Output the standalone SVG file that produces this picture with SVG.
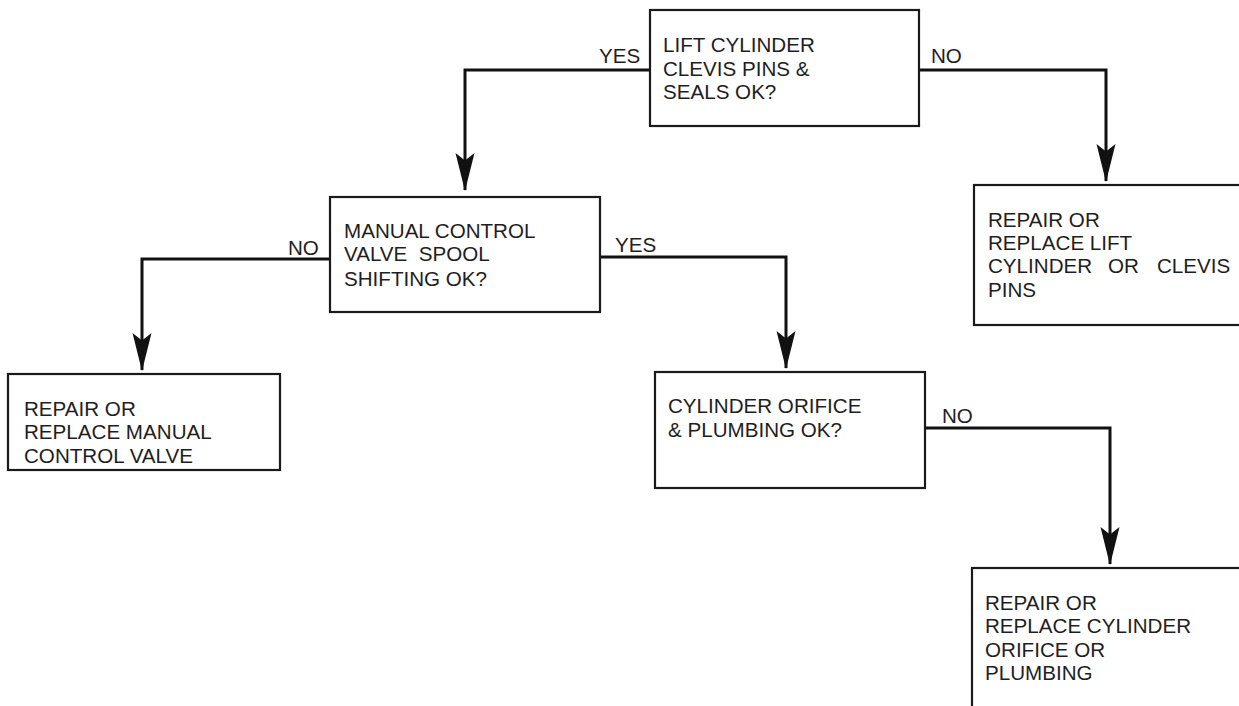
<svg xmlns="http://www.w3.org/2000/svg" width="1239" height="706" viewBox="0 0 1239 706">
<defs>
<style>
.box{fill:#fff;stroke:#1a1a1a;stroke-width:2.2}
.t{font-family:"Liberation Sans",Arial,Helvetica,sans-serif;font-size:20.6px;fill:#1e1e1e}
.c{fill:none;stroke:#111;stroke-width:3;stroke-linejoin:miter}
</style>
<marker id="ah" markerUnits="userSpaceOnUse" markerWidth="38" markerHeight="20" viewBox="0 0 36 18" refX="35" refY="9" orient="auto">
<path d="M0,0 L7,9 L0,18 L36,9 Z" fill="#111"/>
</marker>
</defs>
<rect width="1239" height="706" fill="#fff"/>
<g id="connectors">
<polyline class="c" points="650,70 465,70 465,190" marker-end="url(#ah)"/>
<polyline class="c" points="919,70 1106,70 1106,181" marker-end="url(#ah)"/>
<polyline class="c" points="330,259 142,259 142,370" marker-end="url(#ah)"/>
<polyline class="c" points="600,257 786,257 786,368" marker-end="url(#ah)"/>
<polyline class="c" points="925,428 1110,428 1110,564" marker-end="url(#ah)"/>
<text class="t" x="599" y="63">YES</text>
<text class="t" x="931" y="63">NO</text>
<text class="t" x="288" y="255">NO</text>
<text class="t" x="615" y="252">YES</text>
<text class="t" x="942" y="423">NO</text>
</g>
<g id="node-lift">
<rect class="box" x="650" y="10" width="269" height="116"/>
<text class="t" x="663" y="52">LIFT CYLINDER</text>
<text class="t" x="663" y="76">CLEVIS PINS &amp;</text>
<text class="t" x="663" y="99">SEALS OK?</text>
</g>
<g id="node-manual">
<rect class="box" x="330" y="197" width="270" height="115"/>
<text class="t" x="344" y="238">MANUAL CONTROL</text>
<text class="t" x="344" y="261" xml:space="preserve">VALVE  SPOOL</text>
<text class="t" x="344" y="286">SHIFTING OK?</text>
</g>
<g id="node-repair-lift">
<rect class="box" x="974" y="185" width="280" height="140"/>
<text class="t" x="988" y="227">REPAIR OR</text>
<text class="t" x="988" y="250">REPLACE LIFT</text>
<text class="t" y="273"><tspan x="988">CYLINDER</tspan> <tspan x="1108">OR</tspan> <tspan x="1157">CLEVIS</tspan></text>
<text class="t" x="988" y="297">PINS</text>
</g>
<g id="node-repair-manual">
<rect class="box" x="8" y="374" width="272" height="96"/>
<text class="t" x="24" y="416">REPAIR OR</text>
<text class="t" x="24" y="439">REPLACE MANUAL</text>
<text class="t" x="24" y="463">CONTROL VALVE</text>
</g>
<g id="node-orifice">
<rect class="box" x="655" y="372" width="270" height="116"/>
<text class="t" x="668" y="413">CYLINDER ORIFICE</text>
<text class="t" x="668" y="437">&amp; PLUMBING OK?</text>
</g>
<g id="node-repair-orifice">
<rect class="box" x="972" y="568" width="280" height="160"/>
<text class="t" x="985" y="610">REPAIR OR</text>
<text class="t" x="985" y="633">REPLACE CYLINDER</text>
<text class="t" x="985" y="657">ORIFICE OR</text>
<text class="t" x="985" y="680">PLUMBING</text>
</g>
</svg>
